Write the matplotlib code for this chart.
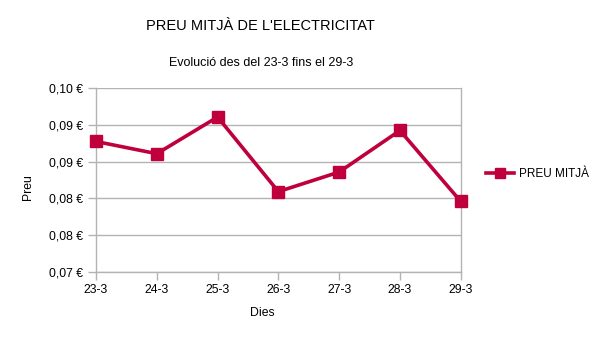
import matplotlib
matplotlib.use("Agg")
import matplotlib.pyplot as plt
from matplotlib.ticker import FuncFormatter

plt.rcParams['font.family'] = ['Liberation Sans', 'DejaVu Sans']

days = ["23-3", "24-3", "25-3", "26-3", "27-3", "28-3", "29-3"]
prices = [0.0913, 0.0893, 0.0953, 0.0831, 0.0863, 0.0931, 0.0815]
yticks = [0.070, 0.076, 0.082, 0.088, 0.094, 0.100]

color = "#c0003c"
grid_c = "#b3b3b3"

fig = plt.figure(figsize=(6.05, 3.4), dpi=100)
ax = fig.add_axes([0.1587, 0.2009, 0.6028, 0.5394])

x = list(range(len(days)))
ax.plot(x, prices, color=color, lw=2.6, marker="s", ms=9, label="PREU MITJÀ",
        zorder=3, clip_on=False)

ax.set_xlim(0, len(days) - 1)
ax.set_ylim(0.07, 0.10)
ax.set_xticks(x)
ax.set_xticklabels(days)
ax.set_yticks(yticks)
ax.yaxis.set_major_formatter(FuncFormatter(lambda v, p: f"{v:.2f} €".replace(".", ",")))
ax.grid(axis="y", color=grid_c, lw=1)
ax.tick_params(axis="both", colors=grid_c, labelcolor="#000000", labelsize=8.8,
               length=6, width=1, pad=3)
for s in ax.spines.values():
    s.set_color(grid_c)
    s.set_linewidth(1)
ax.spines["top"].set_visible(False)

fig.text(28 / 605, 1 - 187 / 340, "Preu", rotation=90, ha="center", va="center", fontsize=8.8)
fig.text(262 / 605, 1 - 313 / 340, "Dies", ha="center", va="center", fontsize=8.8)

fig.text(260 / 605, 1 - 26.5 / 340, "PREU MITJÀ DE L'ELECTRICITAT", ha="center", va="center", fontsize=10.5)
fig.text(261 / 605, 1 - 62.5 / 340, "Evolució des del 23-3 fins el 29-3", ha="center", va="center", fontsize=9)

ax.legend(loc="center left", bbox_to_anchor=(1.04, 0.53), frameon=False, fontsize=8.5,
          handlelength=2.4, markerscale=0.8, handletextpad=0.4)

fig.savefig("out.png", dpi=100)
